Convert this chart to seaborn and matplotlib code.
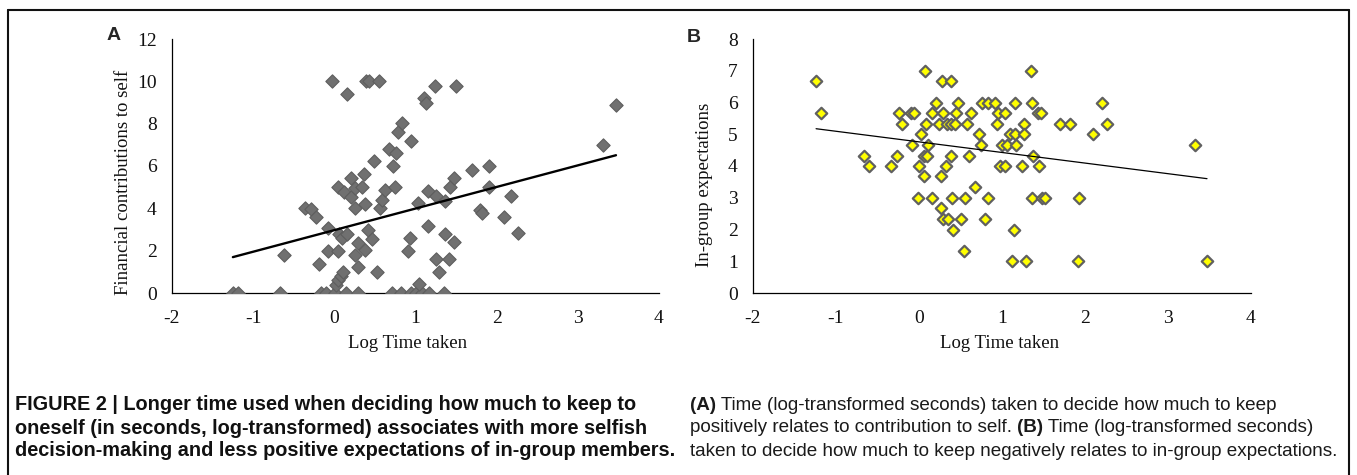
import numpy as np
import pandas as pd
import matplotlib
matplotlib.use("Agg")
import matplotlib.pyplot as plt
import seaborn as sns
from matplotlib.lines import Line2D

# ---------------- data ----------------
# Panel A: log time taken vs financial contributions to self
a_time = [-1.25, -1.19, -0.67, -0.17, -0.10, 0.01, 0.14, 0.29, 0.71, 0.82, 0.94, 1.00, 1.08, 1.17, 1.35,
          -0.62, -0.36, -0.29, -0.23, -0.19, -0.08, -0.08, -0.03, 0.02, 0.05, 0.08, 0.11,
          0.05, 0.05, 0.06, 0.10, 0.12, 0.15, 0.16, 0.20, 0.20, 0.25, 0.25, 0.25, 0.29, 0.29,
          0.34, 0.37, 0.38, 0.38, 0.39, 0.43, 0.55, 0.42, 0.47, 0.49, 0.52, 0.56, 0.59, 0.62,
          0.67, 0.72, 0.75, 0.76, 0.78, 0.83, 0.91, 0.93, 0.95, 1.03, 1.04, 1.10, 1.13, 1.15,
          1.16, 1.24, 1.25, 1.25, 1.29, 1.36, 1.36, 1.41, 1.42, 1.47, 1.47, 1.50, 1.70, 1.80,
          1.82, 1.90, 1.91, 2.09, 2.18, 2.26, 3.31, 3.47]
a_contrib = [0, 0, 0, 0, 0, 0, 0, 0, 0, 0, 0, 0, 0, 0, 0,
             1.8, 4.03, 3.97, 3.58, 1.37, 3.05, 1.98, 10.0, 0.38, 0.61, 0.82, 0.98,
             1.98, 5.02, 2.79, 2.58, 4.79, 9.4, 2.79, 5.42, 4.55, 4.97, 4.0, 1.8, 2.35, 1.21,
             5.02, 5.6, 4.19, 2.03, 10.0, 10.0, 10.0, 2.98, 2.55, 6.24, 0.98, 4.0, 4.39, 4.87,
             6.80, 6.01, 5.02, 6.60, 7.62, 8.01, 1.98, 2.61, 7.18, 4.24, 0.41, 9.23, 8.99, 4.83,
             3.18, 9.79, 4.58, 1.61, 0.98, 4.36, 2.79, 1.61, 5.02, 5.42, 2.39, 9.79, 5.81, 3.92,
             3.79, 6.01, 5.02, 3.6, 4.6, 2.82, 6.99, 8.88]
a_fit = [2.97, 1.02]   # intercept, slope

# Panel B: log time taken vs in-group expectations
b_time = [0.07, 1.35,
          -1.24, 0.28, 0.38,
          0.21, 0.47, 0.76, 0.83, 0.92, 1.16, 1.36, 2.20,
          -1.18, -0.24, -0.10, -0.06, 0.16, 0.29, 0.44, 0.63, 0.95, 1.04, 1.43, 1.47,
          -0.20, 0.08, 0.24, 0.34, 0.38, 0.43, 0.58, 0.94, 1.26, 1.70, 1.82, 2.27,
          0.03, 0.72, 1.10, 1.16, 1.26, 2.10,
          -0.08, 0.11, 0.75, 1.00, 1.06, 1.17, 3.32,
          -0.66, -0.27, 0.06, 0.10, 0.39, 0.60, 1.37,
          -0.60, -0.34, 0.00, 0.33, 0.97, 1.04, 1.24, 1.44,
          0.06, 0.26,
          0.68,
          -0.01, 0.16, 0.40, 0.56, 0.83, 1.36, 1.48, 1.52, 1.93,
          0.26,
          0.29, 0.35, 0.51, 0.79,
          0.41, 1.14,
          0.54,
          1.12, 1.29, 1.91, 3.47]
b_expect = [7.0, 7.0,
            6.67, 6.67, 6.67,
            6.0, 6.0, 6.0, 6.0, 6.0, 6.0, 6.0, 6.0,
            5.67, 5.67, 5.67, 5.67, 5.67, 5.67, 5.67, 5.67, 5.67, 5.67, 5.67, 5.67,
            5.33, 5.33, 5.33, 5.33, 5.33, 5.33, 5.33, 5.33, 5.33, 5.33, 5.33, 5.33,
            5.0, 5.0, 5.0, 5.0, 5.0, 5.0,
            4.67, 4.67, 4.67, 4.67, 4.67, 4.67, 4.67,
            4.33, 4.33, 4.33, 4.33, 4.33, 4.33, 4.33,
            4.0, 4.0, 4.0, 4.0, 4.0, 4.0, 4.0, 4.0,
            3.67, 3.67,
            3.33,
            3.0, 3.0, 3.0, 3.0, 3.0, 3.0, 3.0, 3.0, 3.0,
            2.67,
            2.33, 2.33, 2.33, 2.33,
            2.0, 2.0,
            1.33,
            1.0, 1.0, 1.0, 1.0]
b_fit = [4.76, -0.334]

a_yticks = [0, 2, 4, 6, 8, 10, 12]
b_yticks = [0, 1, 2, 3, 4, 5, 6, 7, 8]
xticks = [-2, -1, 0, 1, 2, 3, 4]

caption_left = ["FIGURE 2 | Longer time used when deciding how much to keep to",
                "oneself (in seconds, log-transformed) associates with more selfish",
                "decision-making and less positive expectations of in-group members."]

# ---------------- figure ----------------
sns.set_theme(style="white")
plt.rcParams['font.family'] = ['Liberation Serif', 'DejaVu Serif']

W, H = 1357, 475
fig = plt.figure(figsize=(W / 100, H / 100), dpi=100)

def px_axes(l, t, r, b):
    return fig.add_axes([l / W, 1 - b / H, (r - l) / W, (b - t) / H])

axA = px_axes(172, 39, 659, 293)
axB = px_axes(753, 39, 1251, 293)

dfA = pd.DataFrame({"t": a_time, "c": a_contrib})
dfB = pd.DataFrame({"t": b_time, "e": b_expect})

sns.scatterplot(data=dfA, x="t", y="c", ax=axA, marker="D", s=46,
                color="#707070", edgecolor="#5e5e5e", linewidth=0.8, zorder=3)
xa = np.array([min(a_time), max(a_time)])
sns.lineplot(x=xa, y=a_fit[0] + a_fit[1] * xa, ax=axA, color="black", linewidth=1.7, zorder=4)

sns.scatterplot(data=dfB, x="t", y="e", ax=axB, marker="D", s=34,
                color="#ffff00", edgecolor="#606060", linewidth=1.6, zorder=3)
xb = np.array([min(b_time), max(b_time)])
sns.lineplot(x=xb, y=b_fit[0] + b_fit[1] * xb, ax=axB, color="black", linewidth=0.9, zorder=4)

for ax, yt, ylab in [(axA, a_yticks, "Financial contributions to self"),
                     (axB, b_yticks, "In-group expectations")]:
    ax.set_xlim(-2, 4)
    ax.set_ylim(yt[0], yt[-1])
    ax.set_xticks(xticks)
    ax.set_yticks(yt)
    ax.set_xticklabels([str(v) for v in xticks])
    ax.set_yticklabels([str(v) for v in yt])
    for s in ["top", "right"]:
        ax.spines[s].set_visible(False)
    for s in ["left", "bottom"]:
        ax.spines[s].set_color("black")
        ax.spines[s].set_linewidth(0.9)
    ax.tick_params(axis="both", which="major", direction="out", length=4, width=0.9,
                   color="black", labelsize=14, labelcolor="#111111")
    ax.tick_params(axis="x", pad=8)
    ax.tick_params(axis="y", pad=7)
    ax.set_facecolor("white")
    ax.set_xlabel("Log Time taken", fontsize=13.5, color="#111111")
    ax.set_ylabel(ylab, fontsize=13.5, color="#111111")
    ax.grid(False)

axA.xaxis.set_label_coords(0.483, -0.165)
axB.xaxis.set_label_coords(0.496, -0.165)
axA.yaxis.set_label_coords(-0.082, 0.437)
axB.yaxis.set_label_coords(-0.080, 0.425)

sans = ["Liberation Sans", "DejaVu Sans"]

# panel letters
fig.text(107 / W, 1 - 36 / H, "A", fontsize=14, fontweight="bold",
         family=sans, va="center", ha="left")
fig.text(687 / W, 1 - 38 / H, "B", fontsize=14, fontweight="bold",
         family=sans, va="center", ha="left")

# frame
frame_col = "#111111"
fig.add_artist(Line2D([8 / W, 1349 / W], [1 - 10 / H, 1 - 10 / H], transform=fig.transFigure,
                      color=frame_col, linewidth=1.5))
fig.add_artist(Line2D([8 / W, 8 / W], [1 - 10 / H, 0], transform=fig.transFigure,
                      color=frame_col, linewidth=1.5))
fig.add_artist(Line2D([1349 / W, 1349 / W], [1 - 10 / H, 0], transform=fig.transFigure,
                      color=frame_col, linewidth=1.5))

# captions
ys = [405, 428, 451]
for y, line in zip(ys, caption_left):
    fig.text(15 / W, 1 - y / H, line, fontsize=14.3, fontweight="bold",
             family=sans, va="center", ha="left", color="#111111")

cap_fs = 13.6
r = fig.canvas.get_renderer()
def rich_line(x0, y, parts):
    x = x0
    for txt, bold in parts:
        t = fig.text(x / W, 1 - y / H, txt, fontsize=cap_fs, fontweight="bold" if bold else "normal",
                     family=sans, va="center", ha="left", color="#1a1a1a")
        bb = t.get_window_extent(renderer=r)
        x += bb.width
    return x

rich_line(690, ys[0], [("(A)", True), (" Time (log-transformed seconds) taken to decide how much to keep", False)])
rich_line(690, ys[1], [("positively relates to contribution to self. ", False), ("(B)", True),
                       (" Time (log-transformed seconds)", False)])
rich_line(690, ys[2], [("taken to decide how much to keep negatively relates to in-group expectations.", False)])

fig.savefig("out.png", dpi=100, facecolor="white")
